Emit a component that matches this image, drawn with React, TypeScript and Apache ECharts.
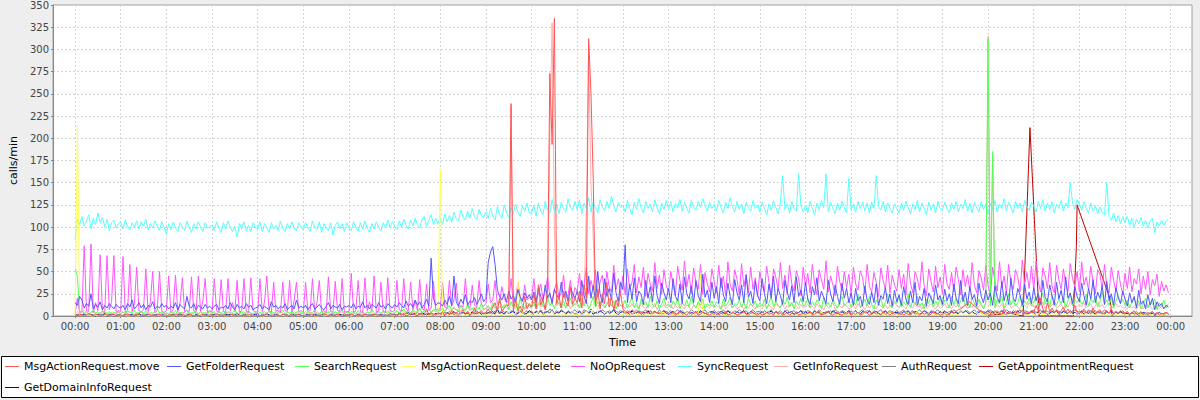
import React, { useEffect, useRef } from "react";
import * as echarts from "echarts";

// Sampling step of the per-series value arrays (minutes from 00:00)
const STEP_MIN = 3;

const SERIES_NAMES = [
  "MsgActionRequest.move",
  "GetFolderRequest",
  "SearchRequest",
  "MsgActionRequest.delete",
  "NoOpRequest",
  "SyncRequest",
  "GetInfoRequest",
  "AuthRequest",
  "GetAppointmentRequest",
  "GetDomainInfoRequest",
];

const SERIES_COLORS = [
  "#ff5555", "#5555ff", "#55ff55", "#ffff55", "#ff55ff",
  "#55ffff", "#ffafaf", "#808080", "#c00000", "#0000c0",
];

const MOVE: number[] = [
  0,1,2,1,0,1,3,1,0,2,1,1,0,2,1,0,1,2,0,1,
  1,0,1,2,1,0,1,1,2,0,1,0,2,1,1,0,1,2,1,0,
  0,1,1,0,2,1,0,1,1,0,2,1,0,1,0,1,2,0,1,1,
  1,0,2,1,0,1,1,0,1,2,0,1,1,0,1,0,2,1,0,1,
  0,1,0,1,2,0,1,1,0,1,0,2,1,0,1,1,0,1,2,0,
  1,1,0,2,1,0,1,0,1,1,2,0,1,0,1,2,1,0,1,1,
  0,2,1,0,1,1,0,2,1,0,1,1,2,0,1,0,1,1,0,2,
  1,0,2,1,3,0,1,2,4,1,0,3,1,2,8,1,3,2,1,4,
  2,5,1,3,2,6,1,4,2,3,7,2,5,1,3,9,2,4,6,3,
  4,8,3,10,15,6,20,5,9,12,12,239,7,18,6,11,5,22,8,14,
  10,25,8,35,12,18,7,30,273,193,335,14,22,9,28,16,11,33,13,20,
  15,28,9,35,20,312,252,155,12,30,8,25,14,38,10,22,7,18,11,26,
  8,5,3,6,2,4,7,3,5,2,4,3,6,2,5,3,4,2,3,5,
  3,2,4,1,3,5,2,3,1,4,2,3,5,1,2,4,3,2,1,3,
  2,4,1,3,2,5,1,2,4,3,1,2,3,5,2,1,3,4,2,1,
  3,1,2,4,2,3,1,5,2,3,1,2,4,1,3,2,5,1,2,3,
  2,3,5,1,2,4,3,1,2,3,6,2,1,3,4,2,1,3,2,4,
  1,3,2,4,1,2,5,3,1,2,4,2,3,1,5,2,3,1,4,2,
  3,2,4,1,3,2,1,5,2,3,1,4,2,3,1,2,6,2,3,1,
  2,3,1,2,4,3,5,7,8,10,12,14,16,14,11,9,7,5,3,2,
  3,5,2,4,6,3,2,8,4,3,5,2,6,3,4,7,2,5,3,4,
  4,12,6,20,8,3,15,5,9,4,7,3,6,10,4,8,3,5,12,4,
  5,3,8,4,6,2,9,3,5,7,2,4,6,3,8,2,5,3,4,6,
  3,5,2,4,6,2,3,5,1,4,2,3,5,2,4,1,3,2,4,3,
];

const GET_FOLDER: number[] = [
  15,12,22,18,9,14,11,25,8,13,10,16,7,12,9,14,11,8,13,10,
  9,12,7,14,10,18,8,11,15,9,13,7,12,10,16,8,11,9,14,10,
  12,8,11,9,15,7,13,10,8,22,11,9,14,7,12,10,8,13,9,11,
  8,11,13,7,10,9,12,8,15,10,7,13,9,11,8,14,10,12,7,9,
  10,13,8,11,9,7,16,10,12,8,11,9,14,7,10,12,8,18,9,11,
  9,12,7,11,14,8,10,13,9,7,11,15,8,12,10,9,13,7,11,10,
  12,9,14,8,11,10,16,9,12,8,13,11,9,15,10,12,8,14,11,9,
  13,10,15,12,9,17,11,14,10,18,12,16,9,13,19,11,65,20,12,15,
  14,11,18,13,22,12,45,16,11,19,14,24,12,17,15,21,13,18,25,16,
  20,60,72,78,58,30,22,18,25,16,28,19,23,15,30,21,17,26,20,24,
  18,27,15,32,22,17,35,20,26,14,30,24,19,38,21,28,16,33,25,20,
  28,16,40,23,14,45,20,34,17,50,25,15,42,22,31,18,48,26,16,38,
  30,80,15,36,19,43,16,28,24,13,40,20,33,16,45,23,14,37,26,18,
  31,15,42,22,17,36,14,44,25,19,34,15,40,23,16,47,21,29,15,38,
  20,33,14,43,24,16,37,22,13,41,26,18,35,15,46,21,28,14,39,23,
  17,42,25,14,36,20,45,16,31,23,13,40,27,18,34,15,44,22,29,16,
  38,19,13,33,24,43,17,28,21,14,40,25,16,35,22,13,37,20,31,15,
  26,12,31,17,22,11,34,18,13,27,15,36,12,23,19,32,14,25,11,29,
  16,24,12,33,19,13,28,15,38,12,22,17,31,11,26,20,14,35,18,23,
  13,30,17,25,12,36,20,14,40,16,27,12,33,19,24,11,37,22,15,29,
  18,26,12,34,21,15,39,17,28,13,43,20,16,31,24,12,36,19,27,14,
  32,17,25,13,40,21,16,35,23,12,38,19,29,15,44,20,26,14,33,22,
  16,37,23,12,31,19,41,15,27,20,34,13,39,17,25,12,32,21,14,28,
  19,11,26,15,22,9,29,13,17,8,24,12,20,7,16,11,14,8,12,10,
];

const SEARCH: number[] = [
  53,45,4,6,3,5,2,4,7,3,5,2,6,4,3,5,2,4,3,5,
  3,5,2,6,4,3,7,2,4,5,3,6,2,4,3,5,8,3,4,2,
  4,2,5,3,6,2,4,3,5,7,2,4,3,6,2,5,3,4,2,6,
  3,5,2,4,3,6,2,5,3,4,7,2,3,5,2,4,6,3,2,4,
  2,4,3,5,2,6,3,4,2,5,3,7,2,4,3,5,2,4,6,3,
  4,2,5,3,4,6,2,3,5,2,4,3,6,2,5,3,4,7,2,4,
  3,5,4,2,6,3,5,2,4,3,7,4,2,5,3,6,4,3,5,2,
  4,6,3,5,8,4,6,3,7,5,4,9,3,6,5,8,4,7,5,6,
  6,9,5,8,12,6,10,7,5,11,8,6,13,7,9,5,10,8,14,7,
  9,12,7,15,10,8,18,11,9,14,7,16,10,12,8,20,11,9,15,12,
  10,16,8,13,19,11,9,22,12,15,8,18,13,10,17,9,14,20,11,13,
  15,9,21,12,17,8,14,22,10,16,12,19,9,13,20,11,17,8,15,12,
  11,18,9,14,21,10,15,8,19,12,16,9,22,13,10,17,8,14,20,11,
  14,9,17,12,20,8,15,11,18,10,22,13,9,16,12,19,8,14,11,17,
  10,16,13,8,19,11,15,21,9,14,12,18,10,16,8,20,13,11,17,9,
  15,11,19,8,14,22,10,16,12,9,18,13,21,10,15,8,17,12,20,11,
  13,20,9,16,11,18,14,8,21,12,15,10,19,13,9,17,22,11,14,18,
  10,17,12,24,9,15,19,11,22,13,8,18,14,20,10,16,25,12,9,17,
  14,21,10,16,12,25,9,18,13,22,11,15,8,19,14,23,10,17,12,20,
  11,18,15,9,22,13,20,10,17,24,12,16,9,21,14,11,19,13,8,16,
  312,12,185,10,18,14,22,9,16,25,12,19,11,15,23,10,17,13,20,12,
  15,22,11,18,26,13,20,10,24,16,12,19,14,21,9,17,25,12,18,15,
  20,13,17,24,11,19,15,22,10,16,28,13,18,12,21,9,17,23,14,19,
  12,18,9,15,21,11,17,8,14,20,10,16,13,19,7,15,11,18,9,14,
];

const DELETE: number[] = [
  0,215,2,0,1,0,1,0,0,1,0,1,0,0,1,0,0,1,0,0,
  0,0,1,0,0,1,0,0,0,1,0,0,1,0,0,0,1,0,0,1,
  0,1,0,0,0,1,0,0,1,0,0,0,1,0,0,1,0,0,0,1,
  0,0,1,0,1,0,0,0,1,0,0,1,0,0,0,1,0,1,0,0,
  1,0,0,0,1,0,0,1,0,0,0,1,0,0,1,0,0,0,1,0,
  0,1,0,0,1,0,0,0,1,0,1,0,0,0,1,0,0,1,0,0,
  0,0,1,0,0,0,1,0,1,0,0,0,1,0,0,1,0,0,1,0,
  0,1,0,1,0,2,0,1,0,1,2,0,1,0,1,0,2,1,0,1,
  165,1,2,0,3,1,0,2,1,3,0,2,1,4,0,2,1,3,0,2,
  2,1,3,0,2,4,1,3,0,2,5,1,3,2,40,1,4,0,2,3,
  1,3,2,5,0,3,1,4,2,6,1,3,2,0,4,1,3,2,5,1,
  3,1,4,2,6,1,3,8,40,2,4,1,3,5,2,1,4,2,3,1,
  2,4,1,3,2,5,1,2,4,1,3,2,1,4,2,3,1,5,2,1,
  3,1,2,4,1,3,2,1,5,2,3,1,4,2,48,3,1,2,4,1,
  2,3,1,4,2,1,3,2,5,1,2,3,1,4,2,1,3,2,1,4,
  1,3,2,1,4,2,3,1,2,5,1,3,2,1,3,4,1,2,3,1,
  3,1,4,2,1,3,2,5,1,2,3,1,4,2,1,3,2,1,4,2,
  2,4,1,3,2,1,5,2,3,1,2,4,1,3,2,1,3,5,2,1,
  1,2,3,1,4,2,1,3,2,5,1,2,3,1,4,2,3,1,2,3,
  3,1,2,4,1,3,2,1,5,2,3,1,2,4,1,3,2,5,1,2,
  2,4,1,3,2,5,1,2,3,1,4,2,3,1,2,5,3,1,2,4,
  1,3,2,5,1,2,4,1,3,2,1,4,2,3,1,2,5,1,3,2,
  4,1,2,3,1,5,2,1,3,2,4,1,2,3,1,4,2,1,3,2,
  2,1,3,1,2,4,1,2,1,3,1,2,1,3,2,1,2,1,3,1,
];

const NOOP: number[] = [
  2,20,4,5,79,6,5,81,4,15,6,69,5,4,68,7,16,68,4,6,
  5,67,4,6,58,5,14,55,6,4,7,53,5,16,50,4,6,50,5,4,
  6,45,4,7,46,5,15,43,4,6,5,44,6,4,45,5,17,42,4,6,
  5,42,6,4,41,5,4,42,6,15,5,40,4,6,42,5,4,43,6,5,
  4,42,5,16,45,6,4,38,5,7,4,38,6,5,40,4,18,38,5,6,
  4,38,5,6,42,4,15,40,5,6,4,44,5,4,39,6,5,42,4,5,
  5,48,4,6,40,5,4,43,6,16,5,45,4,6,38,5,4,43,6,5,
  6,40,7,5,42,8,6,38,7,17,6,41,8,7,36,6,9,39,7,8,
  8,38,10,9,40,11,18,37,9,12,10,42,11,9,35,12,10,40,13,11,
  14,36,15,18,40,13,16,33,20,15,17,42,14,19,38,22,16,35,18,21,
  20,42,18,25,36,19,28,44,22,17,30,38,21,26,46,20,24,40,19,32,
  28,48,22,35,55,25,40,30,52,21,38,46,24,50,33,27,57,30,42,26,
  45,24,53,30,38,58,26,44,32,55,22,48,36,28,60,31,46,25,52,34,
  27,50,35,23,56,40,29,62,33,47,25,54,38,30,58,24,49,36,27,53,
  39,26,57,32,45,23,61,35,28,52,41,24,59,33,47,26,55,30,43,22,
  50,34,27,56,38,24,53,44,29,60,31,46,25,57,36,28,51,42,23,55,
  33,48,26,58,37,24,52,41,30,62,27,45,35,23,56,39,28,50,32,47,
  24,55,36,29,51,43,25,58,33,27,49,38,22,54,40,30,57,26,46,35,
  28,52,31,47,24,59,37,26,50,42,29,61,34,23,53,39,27,56,32,44,
  25,58,36,30,49,27,55,41,24,52,33,46,28,60,35,26,51,43,29,57,
  34,24,55,39,28,61,32,45,26,58,37,30,52,44,27,63,35,49,31,56,
  29,62,38,27,54,45,31,60,34,26,57,41,30,53,36,28,59,42,33,50,
  27,61,35,44,29,56,38,25,52,47,30,58,33,26,55,40,28,51,36,24,
  48,31,55,27,42,36,53,25,45,30,50,24,41,34,47,22,39,28,35,26,
];

const SYNC: number[] = [
  86,109,103,112,101,107,114,98,110,103,116,105,111,100,109,96,105,108,99,104,
  106,98,108,101,97,105,100,107,98,106,101,109,97,104,99,107,101,96,106,100,
  92,104,97,106,99,95,105,100,96,107,99,94,104,98,106,100,95,105,99,101,
  102,96,106,99,94,105,98,107,100,95,101,89,104,98,106,96,102,95,105,99,
  98,106,95,104,99,94,105,98,102,96,107,99,95,104,98,106,99,96,105,100,
  97,105,99,95,107,100,97,106,94,104,99,96,105,91,102,106,98,104,95,105,
  99,96,106,100,95,105,98,107,99,94,104,98,106,100,96,105,99,108,100,106,
  101,97,107,100,109,102,98,108,101,110,103,99,109,112,101,108,114,103,110,104,
  110,103,115,106,113,105,117,109,107,119,111,108,118,110,121,112,109,120,113,111,
  117,110,121,113,108,123,114,110,125,116,111,122,115,126,117,112,124,118,127,116,
  116,125,112,127,118,114,129,120,116,131,118,126,115,128,121,117,132,122,119,129,
  120,130,115,127,121,133,117,128,122,116,131,123,118,129,121,135,124,117,128,122,
  125,117,130,121,114,128,120,132,122,116,129,121,126,117,131,122,115,127,120,130,
  121,129,117,127,122,131,118,128,121,116,130,123,119,129,122,132,124,118,128,121,
  126,118,130,122,116,128,121,133,123,117,129,120,126,115,128,122,118,130,121,125,
  117,128,121,114,126,119,130,122,115,127,158,120,126,116,129,121,118,160,124,117,
  125,116,129,121,114,127,120,130,122,160,117,128,121,115,127,119,129,122,116,155,
  120,126,117,129,121,128,118,127,116,128,121,158,123,119,129,117,127,121,116,126,
  121,116,127,119,129,122,115,126,120,130,117,127,121,114,128,119,126,116,129,121,
  119,128,121,116,127,120,129,117,126,121,131,118,127,116,128,122,117,129,120,126,
  115,127,120,130,117,126,121,132,118,128,122,116,129,121,127,117,130,123,119,128,
  124,117,129,121,131,118,127,120,128,116,126,121,130,118,127,122,150,127,120,131,
  126,119,129,121,116,127,118,124,115,123,117,114,150,112,108,116,106,113,104,112,
  105,112,102,110,100,109,104,111,101,108,99,107,110,94,106,101,108,102,107,109,
];

const GET_INFO: number[] = [
  3,5,2,4,6,3,2,5,4,3,2,4,3,5,2,3,4,2,3,4,
  2,4,3,2,5,3,2,4,3,5,2,3,4,2,3,5,2,4,3,2,
  3,2,4,3,2,5,3,4,2,3,4,2,5,3,2,4,3,2,4,3,
  4,3,2,5,3,2,4,3,5,2,3,4,2,3,5,2,4,3,2,4,
  2,4,3,2,4,5,2,3,4,2,5,3,2,4,3,2,5,3,4,2,
  3,5,2,4,3,2,5,3,2,4,3,5,2,3,4,2,3,5,2,4,
  4,2,3,5,2,4,3,2,5,3,4,2,3,5,2,4,3,6,2,3,
  3,5,4,6,3,5,7,4,6,3,5,8,4,6,5,7,4,6,8,5,
  6,8,5,9,7,5,10,6,8,5,9,7,11,6,8,10,7,9,6,8,
  8,10,7,12,9,6,11,8,13,9,7,235,10,8,14,9,11,7,12,10,
  9,13,8,15,10,12,7,14,200,330,100,11,16,9,13,10,15,8,12,14,
  12,9,15,11,120,300,150,90,14,10,16,12,9,15,11,13,8,14,10,12,
  11,8,13,10,14,9,12,7,15,10,8,13,11,9,14,7,12,10,13,9,
  10,13,8,12,9,14,11,8,13,10,7,12,9,15,10,8,13,11,9,12,
  9,12,10,7,13,8,11,14,9,12,8,10,13,7,11,9,14,10,8,12,
  11,8,13,9,12,10,7,14,11,9,13,8,12,10,15,9,11,8,13,10,
  10,13,9,11,8,14,10,12,7,13,9,11,15,8,10,12,9,14,11,8,
  9,12,8,14,10,11,7,13,9,12,10,8,14,11,9,13,8,12,10,15,
  12,9,14,10,8,13,11,9,15,10,12,8,13,9,11,14,10,8,12,9,
  10,14,9,12,8,13,10,15,9,11,13,8,12,10,14,9,11,13,8,12,
  315,11,180,9,13,10,14,8,12,15,9,11,13,10,8,14,12,9,15,11,
  12,9,14,11,16,8,13,10,12,15,9,11,14,8,13,10,16,12,9,11,
  13,10,15,9,12,14,8,11,16,10,13,9,12,15,8,11,14,10,12,9,
  10,8,12,9,11,7,13,10,8,12,9,11,7,10,13,8,11,9,12,10,
];

const AUTH: number[] = [
  1,2,0,1,3,1,0,2,1,1,0,2,1,0,1,2,1,0,1,2,
  0,1,2,1,0,1,1,2,0,1,2,1,0,1,0,2,1,1,0,1,
  1,0,1,2,1,0,2,1,1,0,1,2,0,1,1,0,2,1,0,1,
  2,1,0,1,1,2,0,1,0,2,1,1,0,1,2,1,0,1,1,0,
  1,0,2,1,0,1,1,0,2,1,0,1,2,1,0,1,1,2,0,1,
  0,1,1,2,0,1,0,2,1,1,0,1,1,0,2,1,0,1,2,1,
  1,2,0,1,1,0,2,1,0,1,2,1,0,2,1,1,0,1,1,2,
  2,1,3,2,1,4,2,3,1,2,4,2,3,1,3,2,4,2,1,3,
  3,2,4,3,5,2,4,3,6,2,4,3,5,3,2,4,6,3,4,2,
  4,3,5,2,6,4,3,7,4,5,3,6,4,2,5,7,3,4,6,3,
  5,3,6,4,7,3,5,4,8,5,3,6,4,7,5,3,6,4,5,7,
  4,6,3,7,5,4,8,5,3,6,4,7,5,3,6,4,8,5,4,6,
  5,3,6,4,7,5,3,6,4,5,7,3,6,4,5,3,7,4,6,5,
  4,6,3,5,7,4,6,3,5,4,7,5,3,6,4,5,7,3,5,4,
  6,4,5,3,7,4,6,5,3,6,4,7,5,4,6,3,5,7,4,5,
  5,3,6,4,5,7,3,5,4,6,3,5,7,4,5,6,3,4,6,5,
  4,6,5,3,6,4,7,5,3,5,4,6,3,7,5,4,6,5,3,6,
  5,4,6,3,5,7,4,6,5,3,6,4,5,7,3,5,4,6,5,4,
  6,4,5,7,3,5,4,6,3,5,7,4,6,5,3,6,4,5,7,4,
  4,6,3,5,4,7,5,3,6,4,5,6,3,5,7,4,6,3,5,4,
  5,7,4,6,3,5,6,4,7,5,3,6,4,5,7,3,6,5,4,6,
  6,4,5,7,3,6,5,4,6,3,7,5,4,6,5,3,6,4,7,5,
  4,6,5,3,7,4,5,6,3,5,4,7,5,3,6,4,5,3,6,4,
  3,5,2,4,3,5,2,4,3,2,4,3,5,2,3,4,2,3,4,2,
];

const DOMAIN_INFO: number[] = [
  2,1,3,1,2,0,1,2,1,0,2,1,1,3,0,1,2,1,0,1,
  1,0,2,1,1,2,0,1,3,1,0,1,2,0,1,1,2,0,1,2,
  0,1,1,2,0,1,3,1,0,1,2,1,0,2,1,0,1,2,1,0,
  1,2,0,1,1,0,2,1,2,0,1,3,1,0,1,2,0,1,1,2,
  2,0,1,1,3,1,0,1,2,1,0,2,1,1,0,3,1,0,2,1,
  0,1,2,0,1,2,1,0,1,3,1,0,2,1,1,0,2,1,0,1,
  1,2,1,0,2,1,0,3,1,1,0,2,1,0,2,1,1,0,3,1,
  2,1,3,2,1,2,4,1,2,3,1,2,4,2,1,3,2,1,3,2,
  3,2,1,4,2,3,5,2,1,3,4,2,3,1,5,2,3,4,2,3,
  2,4,3,5,2,8,3,4,2,5,3,4,6,2,3,5,4,2,3,6,
  4,2,5,3,6,2,4,5,3,7,2,4,3,6,4,2,5,3,4,2,
  3,5,2,4,6,3,5,2,4,3,6,4,2,5,3,4,7,3,2,4,
  5,3,4,2,6,3,4,5,2,4,3,6,2,4,5,3,2,4,6,3,
  2,4,5,3,2,6,4,3,5,2,4,3,5,2,6,4,3,2,4,5,
  4,2,3,5,4,2,6,3,4,2,5,3,4,6,2,3,5,4,2,3,
  3,5,2,4,3,6,2,5,3,4,2,6,3,4,5,2,3,4,6,2,
  5,3,4,2,6,3,5,2,4,3,5,2,6,4,3,2,5,3,4,6,
  2,4,6,3,2,5,4,3,6,2,4,5,3,2,4,6,3,5,2,4,
  4,3,2,5,4,6,2,3,5,4,2,3,6,4,2,5,3,4,2,5,
  3,5,4,2,6,3,4,2,5,3,6,4,2,5,3,2,4,6,3,4,
  6,3,5,2,4,3,6,4,2,5,3,4,2,6,3,5,4,2,3,5,
  4,2,5,3,6,4,2,3,5,4,6,2,3,5,4,2,6,3,4,2,
  3,5,2,4,3,6,4,2,5,3,4,2,5,3,6,2,4,3,5,3,
  2,3,1,4,2,3,1,2,4,3,1,2,3,1,2,4,2,1,3,2,
];

// GetAppointmentRequest is reported only at a few instants (minutes from 00:00)
const APPT_TIMES: number[] = [1200, 1230, 1246, 1255, 1267, 1312, 1316, 1317, 1360, 1363];
const APPT_VALUES: number[] = [1, 3, 0, 212, 0, 0, 78, 125, 20, 0];

const Y_TICK_STEP = 25;
const Y_MAX = 350;
const HOUR_TICKS: number[] = Array.from({ length: 25 }, (_, i) => i * 60);

const REGULAR_SERIES: number[][] = [
  MOVE, GET_FOLDER, SEARCH, DELETE, NOOP, SYNC, GET_INFO, AUTH, [], DOMAIN_INFO,
];

// Legend layout (icon left edge / top of each item)
const LEGEND_LEFT = [5, 167, 295, 402, 571, 678, 774, 882, 979, 5];
const LEGEND_TOP = [361, 361, 361, 361, 361, 361, 361, 361, 361, 382];

function seriesData(i: number): number[][] {
  if (i === 8) return APPT_TIMES.map((t, k) => [t, APPT_VALUES[k]]);
  return REGULAR_SERIES[i].map((v, k) => [k * STEP_MIN, v]);
}

function hourLabel(v: number): string {
  const h = Math.round(v / 60) % 24;
  return (h < 10 ? "0" : "") + h + ":00";
}

export default function App() {
  const ref = useRef<HTMLDivElement>(null);

  useEffect(() => {
    if (!ref.current) return;
    const chart = echarts.init(ref.current, undefined, { renderer: "svg" });
    const font = "DejaVu Sans";
    const order = SERIES_NAMES.map((_, i) => i).reverse();
    chart.setOption({
      animation: false,
      backgroundColor: "#eeeeee",
      textStyle: { fontFamily: font },
      grid: {
        left: 53,
        right: 8,
        top: 4,
        bottom: 84,
        show: true,
        backgroundColor: "#ffffff",
        borderColor: "#a0a0a0",
        borderWidth: 1,
      },
      graphic: [
        {
          type: "rect",
          z: 0,
          shape: { x: 1.5, y: 356.5, width: 1197, height: 41 },
          style: { fill: "#ffffff", stroke: "#000000", lineWidth: 1 },
        },
      ],
      legend: SERIES_NAMES.map((name, i) => ({
        data: [name],
        left: LEGEND_LEFT[i],
        top: LEGEND_TOP[i],
        padding: 0,
        itemGap: 0,
        icon: "rect",
        itemWidth: 14,
        itemHeight: 1,
        selectedMode: false,
        textStyle: { fontFamily: font, fontSize: 11, color: "#000000" },
      })),
      xAxis: {
        type: "value",
        min: -29,
        max: 1468,
        name: "Time",
        nameLocation: "middle",
        nameGap: 21,
        nameTextStyle: { fontFamily: font, fontSize: 11, color: "#000000" },
        axisLine: { show: true, onZero: false, lineStyle: { color: "#888888" } },
        axisTick: {
          show: true,
          length: 2,
          customValues: HOUR_TICKS,
          lineStyle: { color: "#888888" },
        },
        axisLabel: {
          customValues: HOUR_TICKS,
          formatter: hourLabel,
          fontFamily: font,
          fontSize: 10,
          color: "#444444",
          margin: 5,
        },
        splitLine: {
          show: true,
          lineStyle: { color: "#d4d4d4", type: [2, 2], width: 1 },
        },
      },
      yAxis: {
        type: "value",
        min: 0,
        max: Y_MAX,
        interval: Y_TICK_STEP,
        name: "calls/min",
        nameLocation: "middle",
        nameGap: 32,
        nameRotate: 90,
        nameTextStyle: { fontFamily: font, fontSize: 11, color: "#000000" },
        axisLine: { show: true, onZero: false, lineStyle: { color: "#888888" } },
        axisTick: { show: true, length: 2, lineStyle: { color: "#888888" } },
        axisLabel: { fontFamily: font, fontSize: 10, color: "#444444", margin: 4 },
        splitLine: {
          show: true,
          lineStyle: { color: "#d4d4d4", type: [2, 2], width: 1 },
        },
      },
      series: order.map((i) => ({
        name: SERIES_NAMES[i],
        type: "line",
        data: seriesData(i),
        symbol: "none",
        showSymbol: false,
        silent: true,
        color: SERIES_COLORS[i],
        itemStyle: { color: SERIES_COLORS[i] },
        lineStyle: { color: SERIES_COLORS[i], width: 1 },
      })),
    });
    return () => chart.dispose();
  }, []);

  return (
    <div
      ref={ref}
      style={{ position: "fixed", left: 0, top: 0, width: 1200, height: 400 }}
    />
  );
}
